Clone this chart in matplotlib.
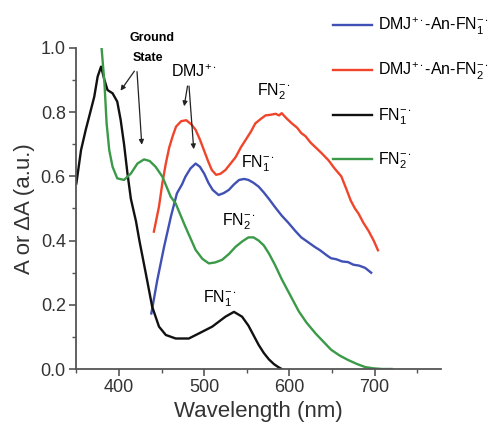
import matplotlib
matplotlib.use("Agg")
import matplotlib.pyplot as plt
from matplotlib.ticker import MultipleLocator
from matplotlib import font_manager as fm

_names = {f.name for f in fm.fontManager.ttflist}
NARROW = 'Liberation Sans Narrow' if 'Liberation Sans Narrow' in _names else 'Liberation Sans'
HAS_NARROW = NARROW == 'Liberation Sans Narrow'

plt.rcParams['font.family'] = ['Liberation Sans', 'DejaVu Sans']
plt.rcParams['mathtext.fontset'] = 'custom'
plt.rcParams['mathtext.rm'] = NARROW
plt.rcParams['mathtext.it'] = NARROW
plt.rcParams['mathtext.bf'] = NARROW + ':bold'

# ---- data ----
wl_fn1 = [350, 355.5, 361, 365, 371, 375, 379, 383, 386.6, 392.5, 398, 402, 406, 410, 414,
          420, 424, 431.5, 439, 447, 455, 466.6, 482, 494, 509.5, 525, 535, 544.5, 552,
          558, 564, 570, 576, 582, 587, 591]
a_fn1 = [0.578, 0.682, 0.745, 0.786, 0.848, 0.911, 0.942, 0.90, 0.869, 0.859, 0.833, 0.776,
         0.70, 0.609, 0.53, 0.46, 0.40, 0.298, 0.194, 0.132, 0.106, 0.095, 0.095, 0.111,
         0.132, 0.163, 0.178, 0.163, 0.135, 0.105, 0.075, 0.05, 0.03, 0.015, 0.006, 0.0]

wl_fn2 = [379.6, 383, 385.5, 388.6, 392.5, 398, 406, 414, 421.7, 429.5, 436, 443, 451, 460.7,
          466.5, 478, 490, 498, 505.5, 513, 521, 529, 537, 545, 552, 558, 564, 570, 576, 583,
          591, 600, 611, 620, 631, 640, 649, 659, 669, 679, 689, 699, 709, 720]
a_fn2 = [1.0, 0.89, 0.766, 0.682, 0.63, 0.594, 0.589, 0.609, 0.64, 0.653, 0.648, 0.63, 0.599,
         0.537, 0.516, 0.443, 0.371, 0.343, 0.329, 0.332, 0.34, 0.358, 0.381, 0.398, 0.41,
         0.41, 0.40, 0.385, 0.36, 0.325, 0.28, 0.235, 0.18, 0.145, 0.11, 0.085, 0.06, 0.042,
         0.028, 0.016, 0.006, 0.002, 0.0, 0.0]

wl_d1 = [438, 445, 453, 461, 468, 474, 478, 484, 490, 495, 500, 505, 510, 517, 523, 529, 535,
         541, 547, 552, 558, 564, 570, 576, 583, 591, 599, 607, 614, 622, 630, 636, 640, 645,
         649, 655, 662, 669, 675, 682, 689, 696]
a_d1 = [0.173, 0.277, 0.381, 0.475, 0.547, 0.575, 0.599, 0.625, 0.64, 0.63, 0.609, 0.58, 0.558,
        0.542, 0.548, 0.558, 0.575, 0.589, 0.592, 0.589, 0.58, 0.568, 0.55, 0.53, 0.505, 0.478,
        0.455, 0.43, 0.41, 0.395, 0.38, 0.37, 0.362, 0.352, 0.345, 0.342, 0.335, 0.333, 0.325,
        0.322, 0.315, 0.30]

wl_d2 = [441, 447, 451, 455, 459, 463, 467, 473, 479, 485, 490, 495, 500, 505, 509, 514, 519,
         525, 531, 537, 543, 549, 555, 560, 566, 572, 578, 584, 588, 591, 597, 603, 609, 614,
         619, 625, 631, 638, 646, 653, 661, 667, 672, 677, 681, 687, 693, 699, 704]
a_d2 = [0.428, 0.506, 0.58, 0.64, 0.69, 0.725, 0.755, 0.772, 0.775, 0.762, 0.745, 0.715, 0.68,
        0.645, 0.62, 0.605, 0.608, 0.62, 0.64, 0.66, 0.69, 0.715, 0.74, 0.765, 0.778, 0.79,
        0.792, 0.795, 0.79, 0.797, 0.78, 0.765, 0.752, 0.735, 0.725, 0.705, 0.69, 0.672, 0.65,
        0.625, 0.60, 0.56, 0.525, 0.50, 0.485, 0.455, 0.43, 0.40, 0.37]

labels = ['DMJ$^{+\\bullet}$-An-FN$_1^{-\\bullet}$',
          'DMJ$^{+\\bullet}$-An-FN$_2^{-\\bullet}$',
          'FN$_1^{-\\bullet}$',
          'FN$_2^{-\\bullet}$']
colors = ['#4050b5', '#f0452b', '#111111', '#3a9a48']

fig = plt.figure(figsize=(4.89, 4.33), dpi=100)
ax = fig.add_axes([75.5/489, 1-369/433, (441-75.5)/489, (369-48)/433])

lw = 1.7
h1, = ax.plot(wl_d1, a_d1, color=colors[0], lw=lw)
h2, = ax.plot(wl_d2, a_d2, color=colors[1], lw=lw)
h3, = ax.plot(wl_fn1, a_fn1, color=colors[2], lw=lw)
h4, = ax.plot(wl_fn2, a_fn2, color=colors[3], lw=lw)

ax.set_xlim(349, 778)
ax.set_ylim(0, 1.0)
ax.spines['top'].set_visible(False)
ax.spines['right'].set_visible(False)
for s in ['left', 'bottom']:
    ax.spines[s].set_color('#555555')
    ax.spines[s].set_linewidth(1.3)
ax.xaxis.set_minor_locator(MultipleLocator(50))
ax.yaxis.set_minor_locator(MultipleLocator(0.1))
ax.set_xticks([400, 500, 600, 700])
ax.set_yticks([0.0, 0.2, 0.4, 0.6, 0.8, 1.0])
ax.set_yticklabels(['0.0', '0.2', '0.4', '0.6', '0.8', '1.0'])
ax.tick_params(which='major', direction='out', length=5, width=1.2, color='#555555',
               labelsize=13, pad=2, labelcolor='#333333')
ax.tick_params(which='minor', direction='out', length=3, width=1.0, color='#555555')
ax.set_xlabel('Wavelength (nm)', fontsize=16, color='#333333', labelpad=4)
ax.set_ylabel('A or \u0394A (a.u.)', fontsize=16, color='#333333', labelpad=4)

lfs = 13 if HAS_NARROW else 11.5
leg = fig.legend([h1, h2, h3, h4], labels, loc='upper left',
                 bbox_to_anchor=(333/489, 1-16/433), frameon=False,
                 prop={'family': NARROW, 'size': lfs},
                 handlelength=2.45, handletextpad=0.37, labelspacing=1.5,
                 borderaxespad=0, borderpad=0)

# annotations
ax.text(412, 1.03, 'Ground', fontsize=9, fontweight='bold', ha='left', va='center')
ax.text(415.5, 0.97, 'State', fontsize=9, fontweight='bold', ha='left', va='center')
ap = dict(arrowstyle='-|>', color='#222222', lw=0.9, mutation_scale=7)
ax.annotate('', xy=(400, 0.86), xytext=(420, 0.935), arrowprops=ap)
ax.annotate('', xy=(427, 0.69), xytext=(421, 0.935), arrowprops=ap)
tfs = 13 if HAS_NARROW else 11.5
ax.text(488, 0.925, 'DMJ$^{+\\bullet}$', fontsize=tfs, ha='center', va='center', family=NARROW)
ax.annotate('', xy=(476, 0.81), xytext=(481, 0.89), arrowprops=ap)
ax.annotate('', xy=(488, 0.676), xytext=(482, 0.89), arrowprops=ap)
ax.text(582, 0.865, 'FN$_2^{-\\bullet}$', fontsize=tfs, ha='center', va='center', family=NARROW)
ax.text(563, 0.64, 'FN$_1^{-\\bullet}$', fontsize=tfs, ha='center', va='center', family=NARROW)
ax.text(541, 0.46, 'FN$_2^{-\\bullet}$', fontsize=tfs, ha='center', va='center', family=NARROW)
ax.text(518, 0.22, 'FN$_1^{-\\bullet}$', fontsize=tfs, ha='center', va='center', family=NARROW)

fig.savefig('out.png', dpi=100)
